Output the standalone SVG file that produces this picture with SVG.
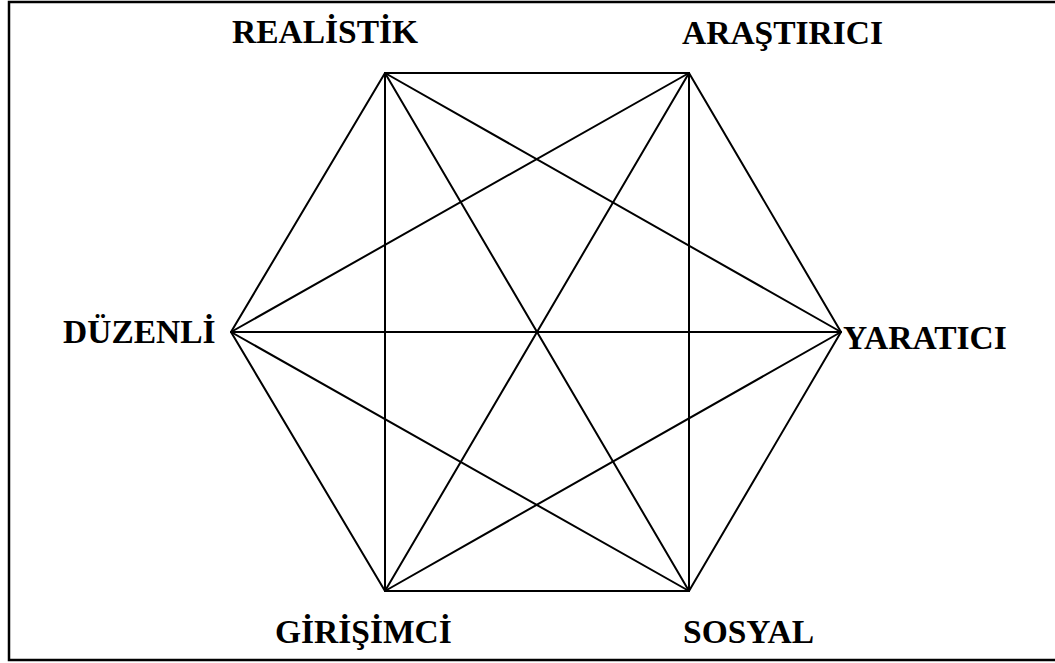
<svg xmlns="http://www.w3.org/2000/svg" width="1055" height="663" viewBox="0 0 1055 663">
<style>
.lbl{font-family:"Liberation Serif","Times New Roman",serif;font-weight:bold;font-size:33.5px;fill:#000}
.ln{stroke:#000;stroke-width:2;fill:none;stroke-linecap:round}
</style>
<rect x="0" y="0" width="1055" height="663" fill="#fff"/>
<rect x="9" y="2" width="1050" height="658" fill="none" stroke="#000" stroke-width="2.5"/>
<g id="connectors" class="ln">
<line x1="385" y1="73" x2="689" y2="73"/>
<line x1="385" y1="73" x2="841" y2="332"/>
<line x1="385" y1="73" x2="689" y2="591"/>
<line x1="385" y1="73" x2="385" y2="591"/>
<line x1="385" y1="73" x2="231" y2="332"/>
<line x1="689" y1="73" x2="841" y2="332"/>
<line x1="689" y1="73" x2="689" y2="591"/>
<line x1="689" y1="73" x2="385" y2="591"/>
<line x1="689" y1="73" x2="231" y2="332"/>
<line x1="841" y1="332" x2="689" y2="591"/>
<line x1="841" y1="332" x2="385" y2="591"/>
<line x1="841" y1="332" x2="231" y2="332"/>
<line x1="689" y1="591" x2="385" y2="591"/>
<line x1="689" y1="591" x2="231" y2="332"/>
<line x1="385" y1="591" x2="231" y2="332"/>
</g>
<g id="realistik"><text class="lbl" x="232" y="43">REALİSTİK</text></g>
<g id="arastirici"><text class="lbl" x="682" y="44">ARAŞTIRICI</text></g>
<g id="duzenli"><text class="lbl" x="63" y="343">DÜZENLİ</text></g>
<g id="yaratici"><text class="lbl" x="843" y="349">YARATICI</text></g>
<g id="girisimci"><text class="lbl" x="275" y="643">GİRİŞİMCİ</text></g>
<g id="sosyal"><text class="lbl" x="683" y="643">SOSYAL</text></g>
</svg>
